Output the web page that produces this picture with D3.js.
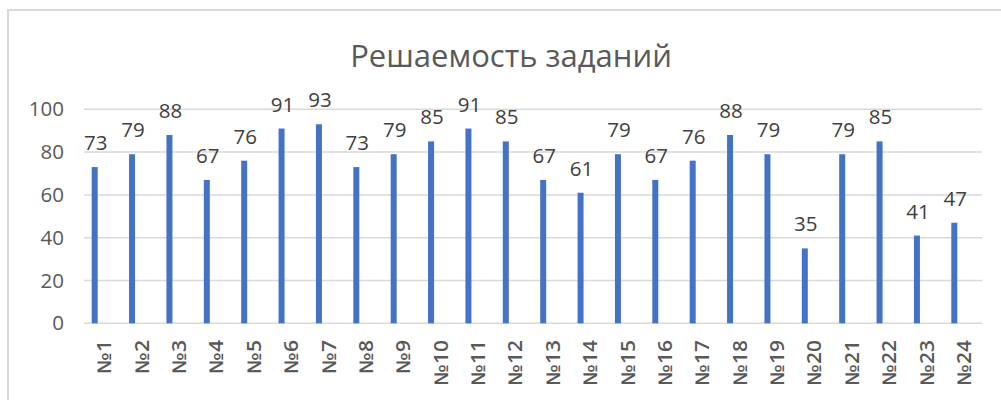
<!DOCTYPE html>
<html>
<head>
<meta charset="utf-8">
<script src="https://cdn.jsdelivr.net/npm/d3@7"></script>
<style>
  html, body { margin: 0; padding: 0; background: #fff; }
  svg { display: block; font-family: "Open Sans", "Noto Sans", sans-serif; }
</style>
</head>
<body>
<div id="chart"></div>
<script>
var categories = ["№1", "№2", "№3", "№4", "№5", "№6", "№7", "№8", "№9", "№10", "№11", "№12",
    "№13", "№14", "№15", "№16", "№17", "№18", "№19", "№20", "№21", "№22", "№23", "№24"];
var values = [73, 79, 88, 67, 76, 91, 93, 73, 79, 85, 91, 85, 67, 61, 79, 67, 76, 88, 79, 35, 79, 85, 41, 47];
var yTicks = [0, 20, 40, 60, 80, 100];
var title = "Решаемость заданий";

function chart() {

    var width = 1001,
        height = 400;

    var svg = d3.select("#chart")
        .append("svg")
        .attr("width", width)
        .attr("height", height);

    // chart area border
    svg.append("rect")
        .attr("x", 8)
        .attr("y", 10)
        .attr("width", width + 20)
        .attr("height", height + 20)
        .attr("fill", "#fff")
        .attr("stroke", "#d9d9d9")
        .attr("stroke-width", 2);

    svg.append("text")
        .attr("x", 511)
        .attr("y", 67)
        .attr("text-anchor", "middle")
        .attr("fill", "#595959")
        .style("font-size", "31px")
        .text(title);

    var x = d3.scaleBand()
        .domain(categories)
        .range([76, 973]);

    var y = d3.scaleLinear()
        .domain([0, 100])
        .range([323.3, 109.3]);

    // gridlines
    svg.append("g")
        .selectAll("line")
        .data(yTicks)
        .enter()
        .append("line")
        .attr("x1", 84)
        .attr("x2", 982)
        .attr("y1", function (d) { return y(d); })
        .attr("y2", function (d) { return y(d); })
        .attr("stroke", "#d9d9d9")
        .attr("stroke-width", 1.5);

    var yAxis = svg.append("g")
        .attr("transform", "translate(84,0)")
        .call(d3.axisLeft(y).tickValues(yTicks).tickSize(0).tickPadding(20));
    yAxis.select(".domain").remove();
    yAxis.selectAll("text")
        .attr("fill", "#595959")
        .style("font-family", "'Open Sans', sans-serif")
        .style("font-size", "20.5px");

    var barW = 6;

    svg.append("g")
        .selectAll("rect")
        .data(values)
        .enter()
        .append("rect")
        .attr("x", function (d, i) { return x(categories[i]) + x.bandwidth() / 2 - barW / 2; })
        .attr("y", function (d) { return y(d); })
        .attr("width", barW)
        .attr("height", function (d) { return y(0) - y(d); })
        .attr("fill", "#4472c4");

    svg.append("g")
        .selectAll("text")
        .data(values)
        .enter()
        .append("text")
        .attr("x", function (d, i) { return x(categories[i]) + x.bandwidth() / 2 + 1; })
        .attr("y", function (d) { return y(d) - 17; })
        .attr("text-anchor", "middle")
        .attr("fill", "#404040")
        .style("font-size", "20.5px")
        .text(function (d) { return d; });

    // category labels, rotated; stretched to the wide "№" of the original font
    svg.append("g")
        .selectAll("text")
        .data(categories)
        .enter()
        .append("text")
        .attr("transform", function (d) {
            var cx = x(d) + x.bandwidth() / 2 + 10;
            return "translate(" + cx + ",340) rotate(-90)";
        })
        .attr("text-anchor", "end")
        .attr("dy", "0.35em")
        .attr("fill", "#595959")
        .style("font-size", "19px")
        .style("font-weight", 600)
        .attr("textLength", function (d) { return 22 + 11.7 * (d.length - 1); })
        .attr("lengthAdjust", "spacingAndGlyphs")
        .text(function (d) { return d; });
}

chart();
</script>
</body>
</html>
